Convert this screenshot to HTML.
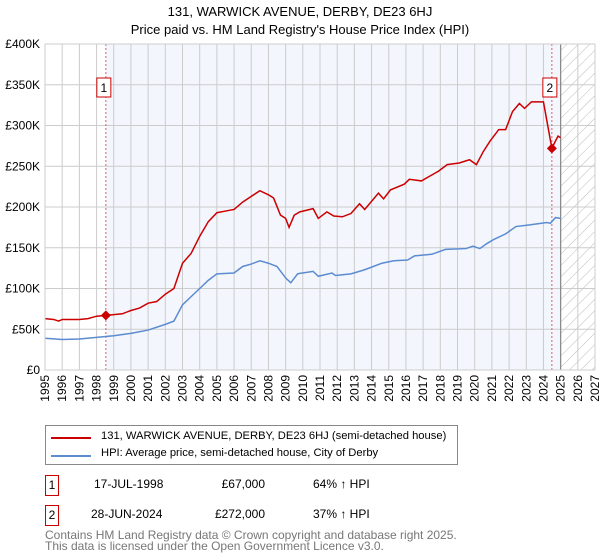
<!DOCTYPE html>
<html><head><meta charset="utf-8">
<style>
body{margin:0;background:#fff;font-family:"Liberation Sans","DejaVu Sans",sans-serif;}
#wrap{position:relative;width:600px;height:560px;overflow:hidden}
.t{position:absolute;font-size:12px;color:#000;white-space:nowrap}
</style></head>
<body>
<div id="wrap">
<svg id="chart" width="600" height="420" style="position:absolute;left:0;top:0">
<text x="300" y="16" text-anchor="middle" font-size="13">131, WARWICK AVENUE, DERBY, DE23 6HJ</text>
<text x="300" y="34" text-anchor="middle" font-size="13">Price paid vs. HM Land Registry's House Price Index (HPI)</text>
<defs><pattern id="hatch" width="8" height="8" patternUnits="userSpaceOnUse" patternTransform="rotate(45)"><line x1="0" y1="0" x2="0" y2="8" stroke="#bbb" stroke-width="1"/></pattern></defs>
<g id="g"></g>
</svg>
<div style="position:absolute;left:45px;top:425px;width:411px;height:38px;border:1px solid #888;">
 <div style="position:absolute;left:5px;top:11px;width:40px;height:2px;background:#cc0000"></div>
 <div class="t" style="left:55px;top:4px;font-size:11.2px">131, WARWICK AVENUE, DERBY, DE23 6HJ (semi-detached house)</div>
 <div style="position:absolute;left:5px;top:29px;width:40px;height:2px;background:#5b8bd0"></div>
 <div class="t" style="left:55px;top:21px;font-size:11.2px">HPI: Average price, semi-detached house, City of Derby</div>
</div>
<div>
 <div class="t" style="left:45px;top:475px;width:12px;height:19px;border:1px solid #cc0000;text-align:center;line-height:19px">1</div>
 <div class="t" style="left:94px;top:477px">17-JUL-1998</div>
 <div class="t" style="left:204px;top:477px;width:61px;text-align:right">£67,000</div>
 <div class="t" style="left:313px;top:477px">64% ↑ HPI</div>
</div>
<div>
 <div class="t" style="left:45px;top:505px;width:12px;height:19px;border:1px solid #cc0000;text-align:center;line-height:19px">2</div>
 <div class="t" style="left:91px;top:507px">28-JUN-2024</div>
 <div class="t" style="left:204px;top:507px;width:61px;text-align:right">£272,000</div>
 <div class="t" style="left:313px;top:507px">37% ↑ HPI</div>
</div>
<div class="t" style="left:45px;top:530px;color:#777;line-height:11px">Contains HM Land Registry data © Crown copyright and database right 2025.<br>This data is licensed under the Open Government Licence v3.0.</div>
</div>
<script>
const yTicks=[0,50,100,150,200,250,300,350,400];
const yTickLabels=["£0","£50K","£100K","£150K","£200K","£250K","£300K","£350K","£400K"];
const xYears=[1995,1996,1997,1998,1999,2000,2001,2002,2003,2004,2005,2006,2007,2008,2009,2010,2011,2012,2013,2014,2015,2016,2017,2018,2019,2020,2021,2022,2023,2024,2025,2026,2027];
const redT=[1995,1995.5,1995.8,1996,1997,1997.5,1998,1998.54,1999,1999.5,2000,2000.5,2001,2001.5,2002,2002.5,2003,2003.5,2004,2004.5,2005,2005.5,2006,2006.5,2007,2007.5,2008,2008.3,2008.7,2009,2009.2,2009.5,2009.83,2010.6,2010.9,2011.4,2011.8,2012.3,2012.8,2013.3,2013.6,2014.4,2014.7,2015.1,2015.9,2016.2,2016.9,2017.4,2017.9,2018.4,2019.1,2019.7,2020.1,2020.5,2020.9,2021.4,2021.8,2022.2,2022.6,2022.9,2023.3,2023.9,2024.0,2024.49,2024.7,2024.85,2025.0];
const redV=[63,62,60,62,62,63,66,67,68,69,73,76,82,84,93,100,131,143,164,182,193,195,197,206,213,220,215,211,190,186,175,190,194,198,186,194,189,188,192,204,197,217,210,221,228,234,232,238,244,252,254,258,252,268,281,295,295,317,327,321,329,329,329,272,281,287,285];
const blueT=[1995,1996,1997,1998,1999,2000,2001,2002,2002.5,2003,2004,2004.5,2005,2006,2006.5,2007,2007.5,2008,2008.5,2009,2009.3,2009.7,2009.83,2010.6,2010.9,2011.7,2011.9,2012.8,2013.6,2014.6,2015.3,2016.1,2016.5,2017.5,2018.3,2019.5,2019.9,2020.3,2020.7,2021.1,2021.8,2022.4,2023.2,2024.2,2024.4,2024.7,2025.0];
const blueV=[39,37.5,38,40,42,45,49,56,60,80,100,110,118,119,127,130,134,131,127,113,107,118,118.6,121,115,119,116,118,123,131,134,135,140,142,148,149,152,149,155,160,167,176,178,181,180,187,186];
const sales=[{t:1998.54,v:67,n:"1"},{t:2024.49,v:272,n:"2"}];

const L=45,R=595,T=44,B=370;
const x=t=>L+(t-1995)*(R-L)/32;
const y=v=>B-v*(B-T)/400;
const g=document.getElementById('g');
const NS="http://www.w3.org/2000/svg";
function mk(tag,attrs,parent){const e=document.createElementNS(NS,tag);for(const k in attrs)e.setAttribute(k,attrs[k]);(parent||g).appendChild(e);return e;}

let e=mk('rect',{x:x(sales[0].t),y:T,width:x(2025)-x(sales[0].t),height:B-T,fill:'#f3f6fd'});


e=mk('rect',{x:x(2025),y:T,width:R-x(2025),height:B-T,fill:'url(#hatch)'});


xYears.forEach(yr=>{
  let l=mk('line',{x1:x(yr),x2:x(yr),y1:T,y2:B,stroke:'#ccc','stroke-width':1});
  
  
  let tx=mk('text',{x:0,y:0,'font-size':12,'text-anchor':'end',transform:`translate(${x(yr)+4},${B+5}) rotate(-90)`});
  tx.textContent=yr;
  
  
});
yTicks.forEach((v,i)=>{
  let l=mk('line',{x1:L,x2:R,y1:y(v),y2:y(v),stroke:'#ccc','stroke-width':1});
  
  
  let tx=mk('text',{x:40,y:y(v)+4,'font-size':12,'text-anchor':'end'});
  tx.textContent=yTickLabels[i];
  
  
});
e=mk('line',{x1:x(2025),x2:x(2025),y1:T,y2:B,stroke:'#888','stroke-width':1.2});


sales.forEach(s=>{
  let l=mk('line',{x1:x(s.t),x2:x(s.t),y1:T,y2:B,stroke:'#e06060','stroke-width':1,'stroke-dasharray':'2,2'});
  
  
});
e=mk('polyline',{points:blueT.map((t,i)=>x(t)+','+y(blueV[i])).join(' '),fill:'none',stroke:'#5b8bd0','stroke-width':1.5});


e=mk('polyline',{points:redT.map((t,i)=>x(t)+','+y(redV[i])).join(' '),fill:'none',stroke:'#cc0000','stroke-width':1.5});


sales.forEach(s=>{
  const cx=x(s.t),cy=y(s.v);
  let d=mk('polygon',{points:`${cx},${cy-5} ${cx+5},${cy} ${cx},${cy+5} ${cx-5},${cy}`,fill:'#cc0000'});
  
  
  let b=mk('rect',{x:cx-9,y:78,width:14,height:19,fill:'#fff',stroke:'#cc0000'});
  
  
  let t=mk('text',{x:cx-2,y:92,'font-size':12,'text-anchor':'middle'});
  t.textContent=s.n;
  
  
});
e=mk('rect',{x:L,y:T,width:R-L,height:B-T,fill:'none',stroke:'#ccc'});


</script>
</body></html>
